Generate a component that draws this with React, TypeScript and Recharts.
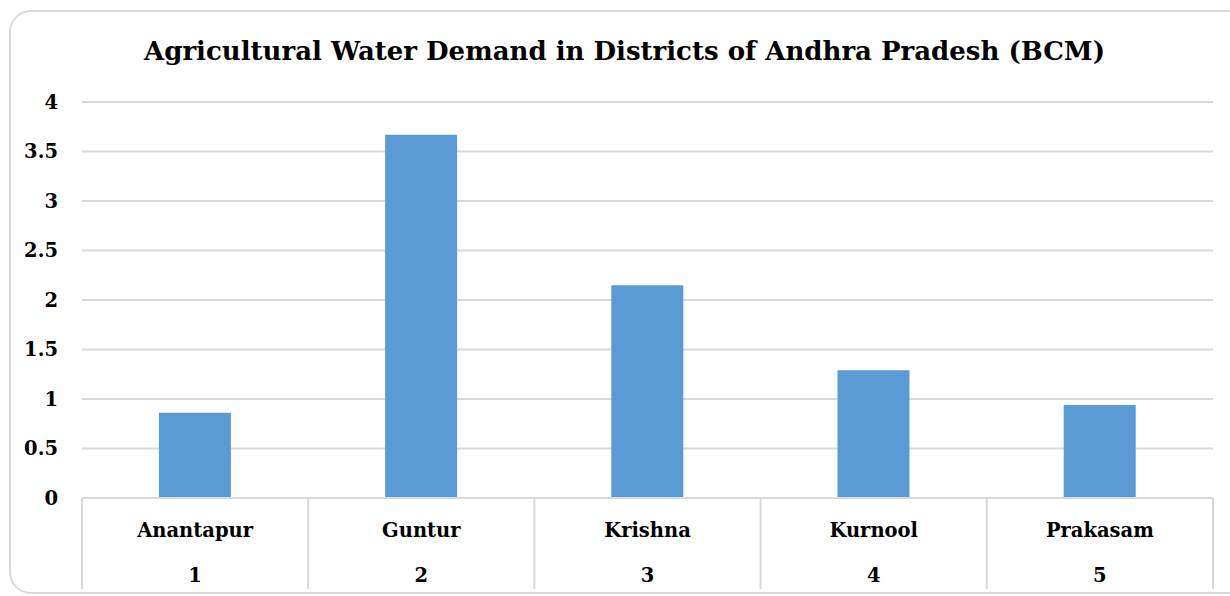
import { BarChart, Bar, XAxis, YAxis, CartesianGrid } from "recharts";

// district names, index row and demand in BCM
const districts = ["Anantapur", "Guntur", "Krishna", "Kurnool", "Prakasam"];
const indexRow = ["1", "2", "3", "4", "5"];
const demand = [0.86, 3.67, 2.15, 1.29, 0.94];
const yTicks = [0, 0.5, 1, 1.5, 2, 2.5, 3, 3.5, 4];

const data = districts.map((name, i) => ({ name, idx: indexRow[i], value: demand[i] }));

const W = 1230;
const H = 596;
const LEFT = 82;
const RIGHT = 17;
const TOP = 102;
const XAXIS_H = 92;
const BAND = (W - LEFT - RIGHT) / districts.length;
const FONT = "'DejaVu Serif', serif";

const CategoryTick = (props: any) => {
  const { x, y, payload, index } = props;
  const top = y - 8; // tick y sits below the axis line by tickSize + tickMargin
  const left = x - BAND / 2;
  const right = x + BAND / 2;
  return (
    <g>
      <line x1={left} y1={top} x2={left} y2={top + 91} stroke="#d9d9d9" strokeWidth={2} />
      {index === districts.length - 1 && (
        <line x1={right} y1={top} x2={right} y2={top + 91} stroke="#d9d9d9" strokeWidth={2} />
      )}
      <text x={x} y={top + 39} textAnchor="middle" fontFamily={FONT} fontWeight={700} fontSize={19.5} fill="#000">
        {payload.value}
      </text>
      <text x={x} y={top + 84} textAnchor="middle" fontFamily={FONT} fontWeight={700} fontSize={19.5} fill="#000">
        {indexRow[index]}
      </text>
    </g>
  );
};

export default function App() {
  return (
    <div style={{ position: "absolute", left: 0, top: 0, width: W, height: H, background: "#fff", overflow: "hidden" }}>
      <div
        style={{
          position: "absolute",
          left: 9,
          top: 10,
          width: 1240,
          height: 584,
          border: "2px solid #d9d9d9",
          borderRadius: 22,
          boxSizing: "border-box",
        }}
      />
      <div
        style={{
          position: "absolute",
          left: 0,
          width: 1249,
          top: 36,
          textAlign: "center",
          fontFamily: FONT,
          fontWeight: 700,
          fontSize: 26,
          color: "#000",
        }}
      >
        Agricultural Water Demand in Districts of Andhra Pradesh (BCM)
      </div>
      <BarChart
        width={W}
        height={H}
        data={data}
        margin={{ top: TOP, right: RIGHT, left: 0, bottom: H - TOP - 396 - XAXIS_H }}
        barCategoryGap="34%"
        style={{ position: "absolute", left: 0, top: 0 }}
      >
        <CartesianGrid vertical={false} stroke="#d9d9d9" strokeWidth={2} />
        <XAxis
          dataKey="name"
          height={XAXIS_H}
          interval={0}
          tickLine={false}
          axisLine={{ stroke: "#d9d9d9", strokeWidth: 2 }}
          tick={<CategoryTick />}
        />
        <YAxis
          width={LEFT}
          domain={[0, 4]}
          ticks={yTicks}
          axisLine={false}
          tickLine={false}
          tickMargin={18}
          tick={{ fontFamily: FONT, fontWeight: 700, fontSize: 19.5, fill: "#000" }}
        />
        <Bar dataKey="value" fill="#5b9bd5" isAnimationActive={false} />
      </BarChart>
    </div>
  );
}
